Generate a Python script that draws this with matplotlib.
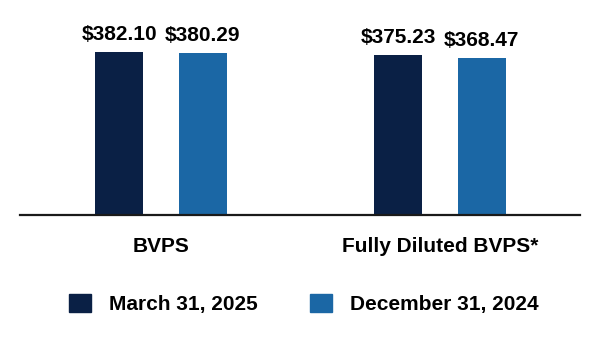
import matplotlib
matplotlib.use("Agg")
import matplotlib.pyplot as plt
from matplotlib.patches import Patch
import numpy as np

plt.rcParams['font.family'] = ['Liberation Sans', 'DejaVu Sans']

categories = ['BVPS', 'Fully Diluted BVPS*']
series_names = ['March 31, 2025', 'December 31, 2024']
mar_2025 = [382.10, 375.23]
dec_2024 = [380.29, 368.47]
colors = ['#0A2045', '#1B67A5']

fig = plt.figure(figsize=(6.0, 3.44), dpi=100)
# axes placed so the baseline sits where the reference has it
ax = fig.add_axes([20 / 600, (344 - 215) / 344, 560 / 600, 192 / 344])

x = np.arange(len(categories))
width = 0.172
offset = 0.15

for vals, shift, c in [(mar_2025, -offset, colors[0]), (dec_2024, offset, colors[1])]:
    bars = ax.bar(x + shift, vals, width=width, color=c)
    for b, v in zip(bars, vals):
        ax.text(b.get_x() + b.get_width() / 2, v + 18, f'${v:.2f}',
                ha='center', va='bottom', fontsize=15, fontweight='bold')

ax.set_xlim(-0.505, 1.502)
ax.set_ylim(0, 450)
ax.set_yticks([])
ax.set_xticks(x)
ax.set_xticklabels(categories, fontsize=15, fontweight='bold')
ax.tick_params(axis='x', length=0, pad=16)
for s in ['top', 'right', 'left']:
    ax.spines[s].set_visible(False)
ax.spines['bottom'].set_linewidth(1.6)
ax.spines['bottom'].set_color('#1a1a1a')

handles = [Patch(color=colors[0]), Patch(color=colors[1])]
fig.legend(handles, series_names, loc='center', bbox_to_anchor=(303.5 / 600, 1 - 304 / 344),
           ncol=2, frameon=False, prop={'size': 15, 'weight': 'bold'},
           handlelength=1.06, handleheight=0.96, handletextpad=0.86, columnspacing=2.5)

fig.savefig('out.png', dpi=100)
